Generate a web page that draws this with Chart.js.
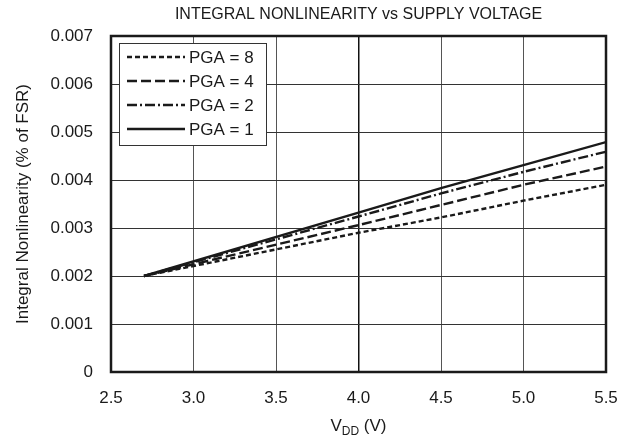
<!DOCTYPE html>
<html>
<head>
<meta charset="utf-8">
<script src="https://cdn.jsdelivr.net/npm/chart.js@4/dist/chart.umd.min.js"></script>
<style>
html,body{margin:0;padding:0;background:#fff;}
#wrap{width:636px;height:443px;position:relative;}
</style>
</head>
<body>
<div id="wrap"><canvas id="c" width="636" height="443"></canvas></div>
<script>
const chartTitle = 'INTEGRAL NONLINEARITY vs SUPPLY VOLTAGE';
const xTitleMain = 'V';
const xTitleSub = 'DD';
const xTitleRest = ' (V)';
const yTitle = 'Integral Nonlinearity (% of FSR)';
const seriesLabels = ['PGA = 8', 'PGA = 4', 'PGA = 2', 'PGA = 1'];
const vdd = [2.7, 4.0, 4.5, 5.0, 5.5];
const pga8 = [0.0020, 0.00290, 0.00322, 0.00357, 0.00390];
const pga4 = [0.0020, 0.00306, 0.00348, 0.00390, 0.00428];
const pga2 = [0.0020, 0.00324, 0.00372, 0.00417, 0.00459];
const pga1 = [0.0020, 0.00332, 0.00383, 0.00431, 0.00479];
const xTicks = [2.5, 3.0, 3.5, 4.0, 4.5, 5.0, 5.5];
const yTicks = [0, 0.001, 0.002, 0.003, 0.004, 0.005, 0.006, 0.007];

const FONT = '"Liberation Sans", Arial, Helvetica, sans-serif';
const INK = '#1a1a1a';
const dashes = [[5, 3], [10, 4], [10, 3, 2, 3], []];
const allSeries = [pga8, pga4, pga2, pga1];

const datasets = allSeries.map((s, i) => ({
  label: seriesLabels[i],
  data: vdd.map((v, j) => ({x: v, y: s[j]})),
  borderColor: INK,
  borderWidth: 2.4,
  borderDash: dashes[i],
  pointRadius: 0,
  fill: false,
  tension: 0
}));

const decor = {
  id: 'decor',
  afterDatasetsDraw(chart) {
    const ctx = chart.ctx;
    const a = chart.chartArea;
    ctx.save();
    ctx.strokeStyle = INK;
    ctx.lineWidth = 2.5;
    ctx.setLineDash([]);
    ctx.strokeRect(a.left, a.top, a.right - a.left, a.bottom - a.top);
    const bx = a.left + 8, by = a.top + 7, bw = 147, bh = 102;
    ctx.fillStyle = '#fff';
    ctx.fillRect(bx, by, bw, bh);
    ctx.lineWidth = 1;
    ctx.strokeStyle = '#333';
    ctx.strokeRect(bx + 0.5, by + 0.5, bw, bh);
    ctx.font = '17px ' + FONT;
    ctx.textBaseline = 'middle';
    ctx.textAlign = 'left';
    chart.data.datasets.forEach((ds, i) => {
      const yy = by + 14 + i * 24;
      ctx.strokeStyle = ds.borderColor;
      ctx.lineWidth = ds.borderWidth;
      ctx.setLineDash(ds.borderDash);
      ctx.beginPath();
      ctx.moveTo(bx + 8, yy);
      ctx.lineTo(bx + 66, yy);
      ctx.stroke();
      ctx.setLineDash([]);
      ctx.fillStyle = INK;
      ctx.fillText(ds.label, bx + 70, yy + 1);
    });
    ctx.restore();
  },
  afterDraw(chart) {
    const ctx = chart.ctx;
    const a = chart.chartArea;
    const cx = (a.left + a.right) / 2;
    ctx.save();
    ctx.fillStyle = INK;
    ctx.textBaseline = 'alphabetic';
    ctx.textAlign = 'center';
    ctx.font = '16px ' + FONT;
    ctx.fillText(chartTitle, cx, 19);
    const big = '17px ' + FONT, small = '12px ' + FONT;
    ctx.font = big; const w1 = ctx.measureText(xTitleMain).width; const w3 = ctx.measureText(xTitleRest).width;
    ctx.font = small; const w2 = ctx.measureText(xTitleSub).width;
    let x0 = cx - (w1 + w2 + w3) / 2;
    const base = 431;
    ctx.textAlign = 'left';
    ctx.font = big; ctx.fillText(xTitleMain, x0, base);
    ctx.font = small; ctx.fillText(xTitleSub, x0 + w1, base + 4);
    ctx.font = big; ctx.fillText(xTitleRest, x0 + w1 + w2, base);
    ctx.restore();
  }
};

new Chart(document.getElementById('c'), {
  type: 'line',
  data: {datasets},
  options: {
    responsive: false,
    animation: false,
    devicePixelRatio: 1,
    layout: {padding: {top: 36, right: 30, left: 0, bottom: 0}},
    plugins: {legend: {display: false}, title: {display: false}, tooltip: {enabled: false}},
    scales: {
      x: {
        type: 'linear', min: 2.5, max: 5.5,
        afterFit(s) { s.height = 71; },
        afterBuildTicks(s) { s.ticks = xTicks.map(v => ({value: v})); },
        grid: {
          drawTicks: false,
          color: c => (c.tick && c.tick.value === 4) ? '#111' : '#555',
          lineWidth: c => (c.tick && c.tick.value === 4) ? 1.5 : 1
        },
        border: {display: false},
        ticks: {
          padding: 16,
          color: INK,
          font: {family: FONT, size: 17},
          callback: v => Number(v).toFixed(1)
        }
      },
      y: {
        type: 'linear', min: 0, max: 0.007,
        afterFit(s) { s.width = 111; },
        afterBuildTicks(s) { s.ticks = yTicks.map(v => ({value: v})); },
        grid: {drawTicks: false, color: '#333', lineWidth: 1},
        border: {display: false},
        title: {display: true, text: yTitle, color: INK, font: {family: FONT, size: 17}, padding: {top: 13, bottom: 0}},
        ticks: {
          padding: 18,
          color: INK,
          font: {family: FONT, size: 17},
          callback: v => v === 0 ? '0' : Number(v).toFixed(3)
        }
      }
    }
  },
  plugins: [decor]
});
</script>
</body>
</html>
